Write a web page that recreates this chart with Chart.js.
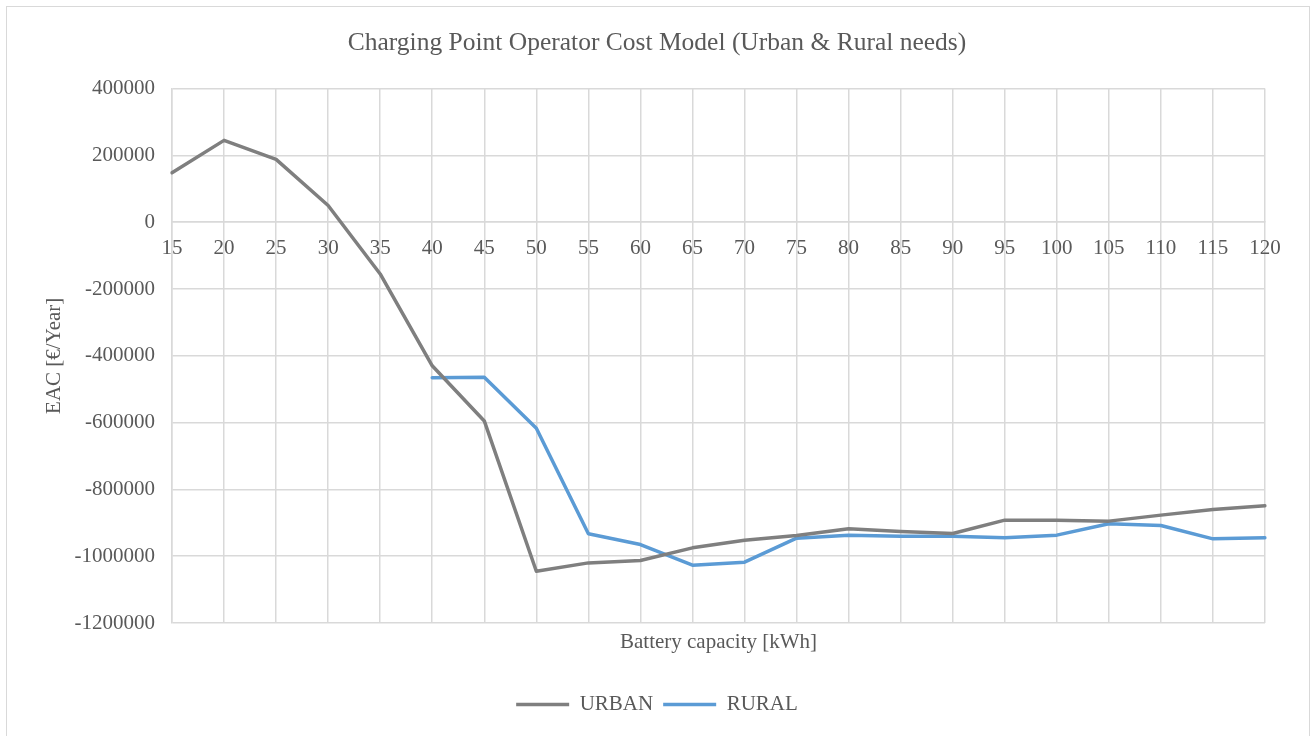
<!DOCTYPE html>
<html>
<head>
<meta charset="utf-8">
<script src="https://cdn.jsdelivr.net/npm/chart.js@4/dist/chart.umd.min.js"></script>
<style>
  html, body { margin: 0; padding: 0; background: #ffffff; }
  #frame { position: absolute; left: 6px; top: 6px; width: 1304px; height: 760px; border: 1.5px solid #d9d9d9; box-sizing: border-box; }
  #c { position: absolute; left: 0; top: 0; }
</style>
</head>
<body>
<div id="frame"></div>
<canvas id="c" width="1314" height="736"></canvas>
<script>
const categories = [15, 20, 25, 30, 35, 40, 45, 50, 55, 60, 65, 70, 75, 80, 85, 90, 95, 100, 105, 110, 115, 120];
const urbanValues = [148000, 245000, 188000, 50000, -155000, -430000, -595000, -1045000, -1020000, -1013000, -975000, -952000, -938000, -918000, -926000, -932000, -892000, -892000, -895000, -877000, -860000, -849000];
const ruralValues = [null, null, null, null, null, -466000, -464000, -617000, -933000, -965000, -1027000, -1018000, -946000, -937000, -940000, -940000, -945000, -937000, -903000, -908000, -948000, -945000];
const seriesNames = ['URBAN', 'RURAL'];
const yTicksMin = -1200000, yTicksMax = 400000, yTicksStep = 200000;

const FONT = "'Liberation Serif', 'Times New Roman', serif";
const TXT = '#595959';
const GRID = '#d9d9d9';

new Chart(document.getElementById('c'), {
  type: 'line',
  data: {
    labels: categories.map(String),
    datasets: [
      { label: seriesNames[0], data: urbanValues, borderColor: '#7f7f7f', backgroundColor: '#7f7f7f',
        borderWidth: 3.5, pointRadius: 0, tension: 0, borderCapStyle: 'round', borderJoinStyle: 'round',
        xAxisID: 'x', yAxisID: 'y' },
      { label: seriesNames[1], data: ruralValues, borderColor: '#5b9bd5', backgroundColor: '#5b9bd5',
        borderWidth: 3.5, pointRadius: 0, tension: 0, borderCapStyle: 'round', borderJoinStyle: 'round',
        spanGaps: false, xAxisID: 'x', yAxisID: 'y' }
    ]
  },
  options: {
    responsive: false,
    animation: false,
    layout: { padding: { top: 0, left: 0, right: 0, bottom: 11 } },
    plugins: {
      title: {
        display: true,
        text: 'Charging Point Operator Cost Model (Urban & Rural needs)',
        color: TXT,
        font: { family: FONT, size: 25.5, weight: 'normal' },
        padding: { top: 28, bottom: 30 }
      },
      legend: {
        position: 'bottom',
        labels: {
          color: TXT,
          font: { family: FONT, size: 21 },
          usePointStyle: true,
          pointStyle: 'line',
          pointStyleWidth: 53,
          padding: 10
        }
      },
      tooltip: { enabled: false }
    },
    scales: {
      x: {
        type: 'category',
        position: { y: 0 },
        offset: false,
        grid: { color: GRID, lineWidth: 1.5, drawTicks: false, offset: false },
        border: { color: GRID, width: 1.5 },
        ticks: { color: TXT, font: { family: FONT, size: 21 }, padding: 14, maxRotation: 0, autoSkip: false }
      },
      x2: {
        type: 'category',
        position: 'bottom',
        grid: { display: false },
        border: { display: false },
        ticks: { display: false },
        title: { display: true, text: 'Battery capacity [kWh]', color: TXT,
                 font: { family: FONT, size: 21 }, padding: { top: 0, bottom: 28.5 } },
        afterFit: (s) => { s.height = 61; }
      },
      y: {
        type: 'linear',
        position: 'left',
        min: yTicksMin,
        max: yTicksMax,
        ticks: { stepSize: yTicksStep, color: TXT, font: { family: FONT, size: 21 }, padding: 17,
                 callback: (v) => String(v) },
        grid: { color: GRID, lineWidth: 1.5, drawTicks: false },
        border: { color: GRID, width: 1.5 },
        title: { display: true, text: 'EAC [€/Year]', color: TXT,
                 font: { family: FONT, size: 21 }, padding: { top: 42, bottom: 0 } },
        afterFit: (s) => { s.width = 172; }
      },
      y2: {
        type: 'linear',
        position: 'right',
        grid: { display: false },
        border: { display: false },
        ticks: { display: false },
        afterFit: (s) => { s.width = 49; }
      }
    }
  }
});
</script>
</body>
</html>
